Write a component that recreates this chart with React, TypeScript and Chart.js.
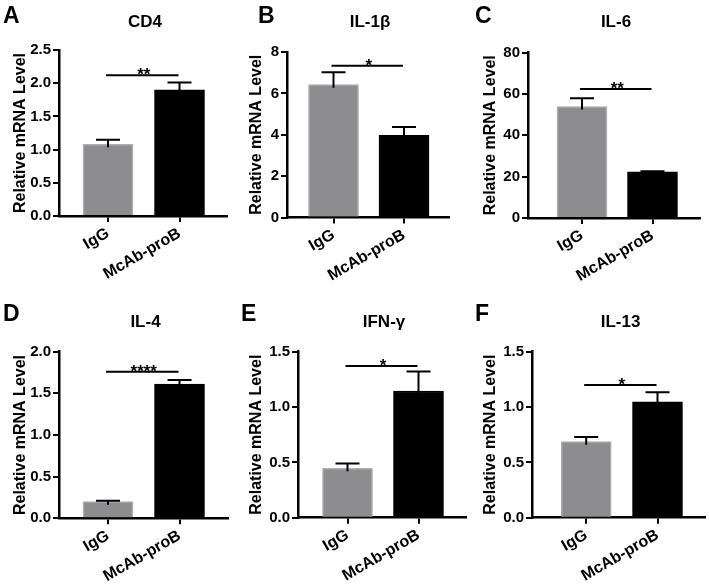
import React, { useEffect, useRef } from "react";
import { Chart, registerables } from "chart.js";

Chart.register(...registerables);

const FONT = "'Liberation Sans', Arial, Helvetica, sans-serif";

const TITLES = ["CD4", "IL-1β", "IL-6", "IL-4", "IFN-γ", "IL-13"];
const LETTERS = ["A", "B", "C", "D", "E", "F"];
const CATEGORIES = ["IgG", "McAb-proB"];
const IGG_MEAN = [1.08, 6.42, 53.9, 0.2, 0.446, 0.687];
const IGG_SEM = [0.07, 0.6, 4.0, 0.01, 0.044, 0.043];
const MCAB_MEAN = [1.9, 3.97, 22.3, 1.61, 1.145, 1.048];
const MCAB_SEM = [0.11, 0.4, 0.3, 0.05, 0.175, 0.085];
const SIG_LEVEL = [2.12, 7.33, 62.3, 1.76, 1.37, 1.2];
const SIG_STARS = ["**", "*", "**", "****", "*", "*"];
const Y_MAX = [2.5, 8, 80, 2.0, 1.5, 1.5];
const Y_STEP = [0.5, 2, 20, 0.5, 0.5, 0.5];
const Y_DECIMALS = [1, 0, 0, 1, 1, 1];
const Y_TITLE = "Relative mRNA Level";

// layout (page pixel coordinates)
const PANELS = [
  { x0: 0, y0: 0, w: 236, h: 290, left: 59, right: 227, top: 50, bottom: 216, c1: 108, c2: 179.5, lx: 3, ly: 23, ty: 22 },
  { x0: 236, y0: 0, w: 234, h: 290, left: 287, right: 449, top: 52, bottom: 217.5, c1: 333.5, c2: 404, lx: 258, ly: 23, ty: 22 },
  { x0: 470, y0: 0, w: 239, h: 290, left: 528, right: 700, top: 52.5, bottom: 218, c1: 582, c2: 652.5, lx: 475, ly: 23, ty: 22 },
  { x0: 0, y0: 290, w: 236, h: 294, left: 59, right: 228, top: 351.7, bottom: 518.3, c1: 108, c2: 179.5, lx: 3, ly: 321, ty: 322 },
  { x0: 236, y0: 290, w: 234, h: 294, left: 298, right: 466, top: 351.7, bottom: 517.7, c1: 347.5, c2: 418.5, lx: 241, ly: 321, ty: 322 },
  { x0: 470, y0: 290, w: 239, h: 294, left: 532, right: 705, top: 351.7, bottom: 517.7, c1: 586.2, c2: 657.5, lx: 475, ly: 321, ty: 322 },
];

function Panel({ i }: { i: number }) {
  const ref = useRef<HTMLCanvasElement>(null);
  const p = PANELS[i];
  useEffect(() => {
    if (!ref.current) return;
    const L = p.left - p.x0;
    const R = p.right - p.x0;
    const T = p.top - p.y0;
    const B = p.bottom - p.y0;
    const unit = p.c2 - p.c1;
    const xmin = 1 - (p.c1 - p.left) / unit;
    const xmax = 2 + (p.right - p.c2) / unit;
    const tickFont = { family: FONT, size: 15, weight: "bold" as const };
    const labelFont = { family: FONT, size: 16, weight: "bold" as const };

    const annot = {
      id: "annot" + i,
      afterDatasetsDraw(chart: any) {
        const ctx = chart.ctx as CanvasRenderingContext2D;
        const xs = chart.scales.x;
        const ys = chart.scales.y;
        const ca = chart.chartArea;
        ctx.save();
        ctx.strokeStyle = "#000";
        ctx.fillStyle = "#000";
        ctx.lineWidth = 2;
        const means = [IGG_MEAN[i], MCAB_MEAN[i]];
        const sems = [IGG_SEM[i], MCAB_SEM[i]];
        for (let k = 0; k < 2; k++) {
          const px = xs.getPixelForValue(k + 1);
          const ym = ys.getPixelForValue(means[k]);
          const yt = ys.getPixelForValue(means[k] + sems[k]);
          ctx.beginPath();
          ctx.moveTo(px, ym + 3);
          ctx.lineTo(px, yt);
          ctx.moveTo(px - 12, yt);
          ctx.lineTo(px + 12, yt);
          ctx.stroke();
        }
        const sy = ys.getPixelForValue(SIG_LEVEL[i]);
        const x1 = xs.getPixelForValue(1);
        const x2 = xs.getPixelForValue(2);
        ctx.beginPath();
        ctx.moveTo(x1 - 2, sy);
        ctx.lineTo(x2 - 1, sy);
        ctx.stroke();
        ctx.font = `bold 17px ${FONT}`;
        ctx.textAlign = "center";
        ctx.textBaseline = "alphabetic";
        ctx.fillText(SIG_STARS[i], (x1 + x2) / 2, sy + 5);

        ctx.font = `bold 17px ${FONT}`;
        ctx.textBaseline = "middle";
        ctx.fillText(TITLES[i], (ca.left + ca.right) / 2 + 2, p.ty - p.y0);

        ctx.font = `bold 23px ${FONT}`;
        ctx.textAlign = "left";
        ctx.textBaseline = "alphabetic";
        ctx.fillText(LETTERS[i], p.lx - p.x0, p.ly - p.y0);
        ctx.restore();
      },
    };

    const chart = new Chart(ref.current, {
      type: "bar",
      data: {
        datasets: [
          {
            data: [
              { x: 1, y: IGG_MEAN[i] },
              { x: 2, y: MCAB_MEAN[i] },
            ],
            backgroundColor: ["#8d8d90", "#000000"],
            borderColor: ["#adadad", "#000000"],
            borderWidth: 1.5,
            barThickness: 50,
          } as any,
        ],
      },
      options: {
        responsive: false,
        animation: false,
        devicePixelRatio: 1,
        layout: { padding: { left: 0, top: T, right: p.w - R, bottom: 0 } },
        plugins: {
          legend: { display: false },
          tooltip: { enabled: false },
          title: { display: false },
        },
        scales: {
          x: {
            type: "linear",
            min: xmin,
            max: xmax,
            offset: false,
            z: 1,
            afterBuildTicks: (s: any) => {
              s.ticks = [{ value: 1 }, { value: 2 }];
            },
            afterFit: (s: any) => {
              s.height = p.h - B;
            },
            ticks: {
              callback: (v: any) => CATEGORIES[Math.round(Number(v)) - 1],
              minRotation: 30,
              maxRotation: 30,
              font: labelFont,
              color: "#000",
              padding: 2,
            },
            grid: { drawOnChartArea: false, drawTicks: true, tickLength: 6, color: "#000", lineWidth: 2, offset: false },
            border: { display: true, color: "#000", width: 2.5 },
          },
          y: {
            type: "linear",
            min: 0,
            max: Y_MAX[i],
            z: 1,
            afterFit: (s: any) => {
              s.width = L;
            },
            ticks: {
              stepSize: Y_STEP[i],
              callback: (v: any) => Number(v).toFixed(Y_DECIMALS[i]),
              font: tickFont,
              color: "#000",
              padding: 2,
            },
            grid: { drawOnChartArea: false, drawTicks: true, tickLength: 6, color: "#000", lineWidth: 2 },
            border: { display: true, color: "#000", width: 2.5 },
            title: { display: true, text: Y_TITLE, font: labelFont, color: "#000", padding: { top: 11, bottom: 0 } },
          },
        },
      } as any,
      plugins: [annot],
    });
    return () => chart.destroy();
  }, []);
  return (
    <canvas
      ref={ref}
      width={p.w}
      height={p.h}
      style={{ position: "absolute", left: p.x0, top: p.y0, width: p.w, height: p.h }}
    />
  );
}

export default function App() {
  return (
    <div style={{ position: "absolute", left: 0, top: 0, width: 709, height: 584, background: "#fff", overflow: "hidden" }}>
      {PANELS.map((_, i) => (
        <Panel key={i} i={i} />
      ))}
    </div>
  );
}
